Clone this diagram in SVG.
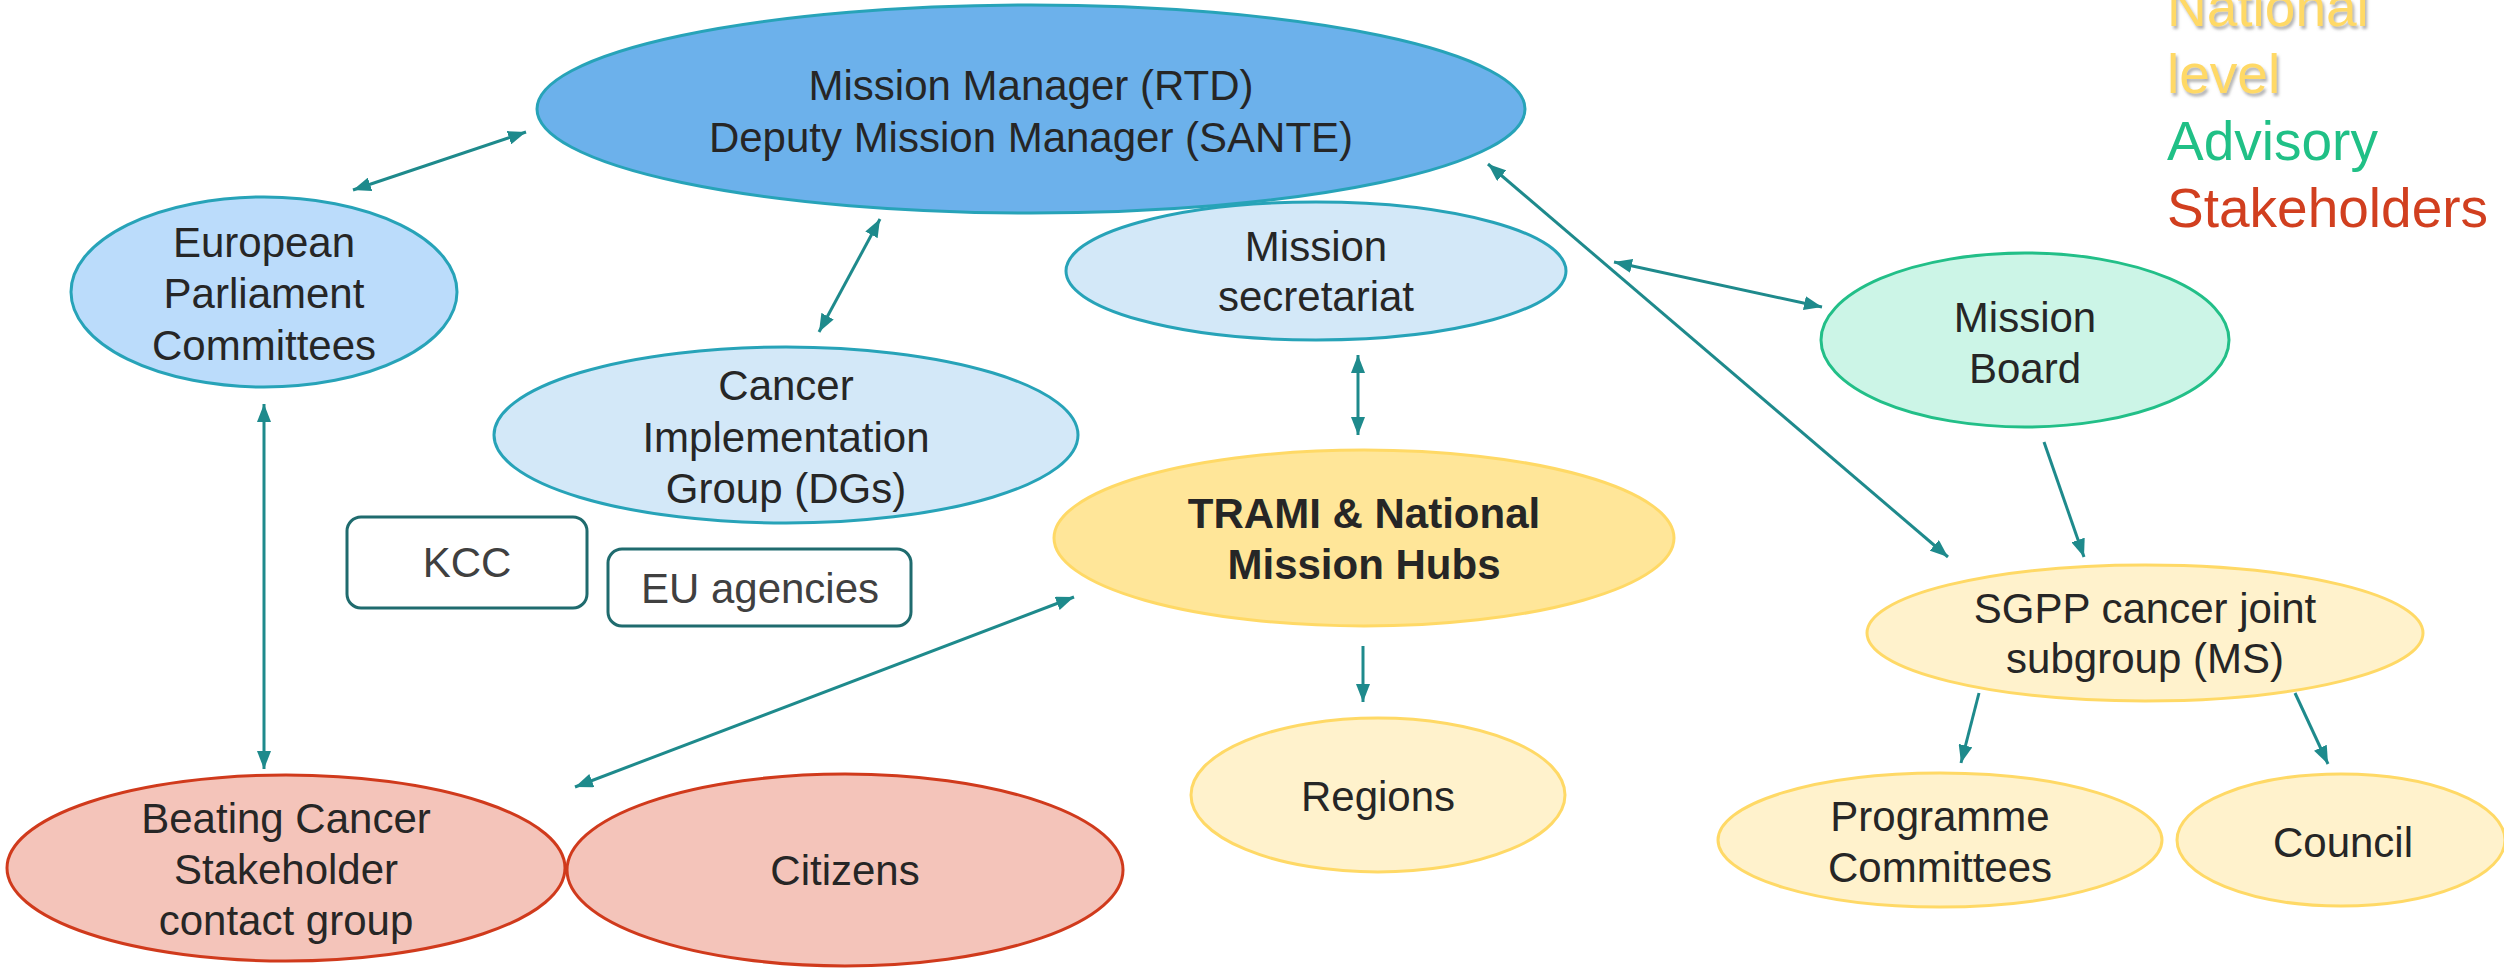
<svg xmlns="http://www.w3.org/2000/svg" width="2504" height="969" viewBox="0 0 2504 969">
<style>
text{font-family:"Liberation Sans",Arial,sans-serif;font-size:42px;fill:#262626;text-anchor:middle}
.blue{stroke:#27A3B8;stroke-width:3}
.yel{fill:#FFF2CC;stroke:#FFD966;stroke-width:3}
.red{fill:#F4C4BA;stroke:#D03A1C;stroke-width:3}
.box{fill:#ffffff;stroke:#1F6B6E;stroke-width:3}
.gray{fill:#404040}
.conn line{stroke:#1E8A8C;stroke-width:3;fill:none}
.leg{font-size:55px;text-anchor:start}
</style>
<defs>
<marker id="ah" markerUnits="userSpaceOnUse" markerWidth="20" markerHeight="14" refX="18" refY="7" orient="auto-start-reverse" viewBox="0 0 20 14">
<path d="M0,0 L18,7 L0,14 z" fill="#1E8A8C"/>
</marker>
<filter id="sh" x="-10%" y="-10%" width="130%" height="140%">
<feDropShadow dx="2" dy="3" stdDeviation="1.5" flood-color="#7f7f7f" flood-opacity="0.6"/>
</filter>
</defs>

<g id="legend">
<text class="leg" x="2167" y="26" fill="#FFD966" style="fill:#FFD966" filter="url(#sh)">National</text>
<text class="leg" x="2167" y="93" style="fill:#FFD966" filter="url(#sh)">level</text>
<text class="leg" x="2167" y="160" style="fill:#20C086">Advisory</text>
<text class="leg" x="2167" y="227" style="fill:#D13F1F">Stakeholders</text>
</g>

<g id="mission-secretariat">
<ellipse class="blue" cx="1316" cy="271" rx="250" ry="69" fill="#D3E8F8"/>
<text x="1316" y="261">Mission</text>
<text x="1316" y="311">secretariat</text>
</g>

<g id="mission-manager">
<ellipse class="blue" cx="1031" cy="109" rx="494" ry="104" fill="#6CB1EB"/>
<text x="1031" y="100">Mission Manager (RTD)</text>
<text x="1031" y="152">Deputy Mission Manager (SANTE)</text>
</g>

<g id="european-parliament">
<ellipse class="blue" cx="264" cy="292" rx="193" ry="95" fill="#BBDCFB"/>
<text x="264" y="257">European</text>
<text x="264" y="308">Parliament</text>
<text x="264" y="360">Committees</text>
</g>

<g id="cancer-implementation-group">
<ellipse class="blue" cx="786" cy="435" rx="292" ry="88" fill="#D3E8F8"/>
<text x="786" y="400">Cancer</text>
<text x="786" y="452">Implementation</text>
<text x="786" y="503">Group (DGs)</text>
</g>

<g id="kcc">
<rect class="box" x="347" y="517" width="240" height="91" rx="14"/>
<text class="gray" x="467" y="577">KCC</text>
</g>

<g id="eu-agencies">
<rect class="box" x="608" y="549" width="303" height="77" rx="14"/>
<text class="gray" x="760" y="603">EU agencies</text>
</g>

<g id="trami">
<ellipse cx="1364" cy="538" rx="310" ry="88" fill="#FFE699" stroke="#FFD966" stroke-width="3"/>
<text x="1364" y="528" font-weight="bold">TRAMI &amp; National</text>
<text x="1364" y="579" font-weight="bold">Mission Hubs</text>
</g>

<g id="regions">
<ellipse class="yel" cx="1378" cy="795" rx="187" ry="77"/>
<text x="1378" y="811">Regions</text>
</g>

<g id="mission-board">
<ellipse cx="2025" cy="340" rx="204" ry="87" fill="#CCF5E7" stroke="#22BF88" stroke-width="3"/>
<text x="2025" y="332">Mission</text>
<text x="2025" y="383">Board</text>
</g>

<g id="sgpp">
<ellipse class="yel" cx="2145" cy="633" rx="278" ry="68"/>
<text x="2145" y="623">SGPP cancer joint</text>
<text x="2145" y="673">subgroup (MS)</text>
</g>

<g id="programme-committees">
<ellipse class="yel" cx="1940" cy="840" rx="222" ry="67"/>
<text x="1940" y="831">Programme</text>
<text x="1940" y="882">Committees</text>
</g>

<g id="council">
<ellipse class="yel" cx="2341" cy="840" rx="164" ry="66"/>
<text x="2343" y="857">Council</text>
</g>

<g id="beating-cancer">
<ellipse class="red" cx="286" cy="868" rx="279" ry="93"/>
<text x="286" y="833">Beating Cancer</text>
<text x="286" y="884">Stakeholder</text>
<text x="286" y="935">contact group</text>
</g>

<g id="citizens">
<ellipse class="red" cx="845" cy="870" rx="278" ry="96"/>
<text x="845" y="885">Citizens</text>
</g>

<g id="connectors" class="conn">
<line x1="353" y1="190" x2="526" y2="132" marker-start="url(#ah)" marker-end="url(#ah)"/>
<line x1="819" y1="332" x2="880" y2="219" marker-start="url(#ah)" marker-end="url(#ah)"/>
<line x1="264" y1="404" x2="264" y2="769" marker-start="url(#ah)" marker-end="url(#ah)"/>
<line x1="1614" y1="262" x2="1822" y2="307" marker-start="url(#ah)" marker-end="url(#ah)"/>
<line x1="1488" y1="164" x2="1948" y2="557" marker-start="url(#ah)" marker-end="url(#ah)"/>
<line x1="1358" y1="355" x2="1358" y2="435" marker-start="url(#ah)" marker-end="url(#ah)"/>
<line x1="1363" y1="646" x2="1363" y2="702" marker-end="url(#ah)"/>
<line x1="1074" y1="597" x2="575" y2="787" marker-start="url(#ah)" marker-end="url(#ah)"/>
<line x1="2044" y1="442" x2="2084" y2="557" marker-end="url(#ah)"/>
<line x1="1979" y1="693" x2="1961" y2="763" marker-end="url(#ah)"/>
<line x1="2295" y1="693" x2="2328" y2="764" marker-end="url(#ah)"/>
</g>
</svg>
